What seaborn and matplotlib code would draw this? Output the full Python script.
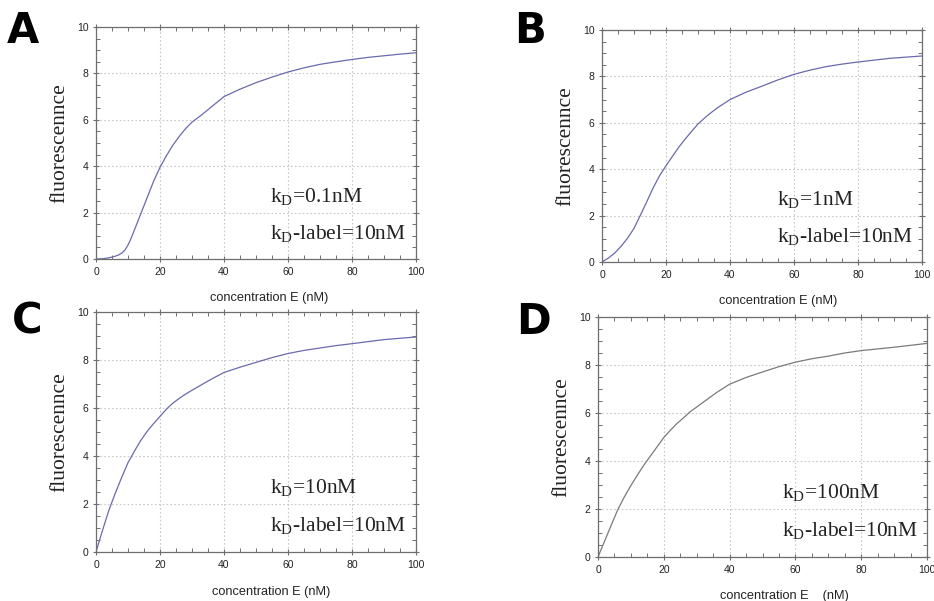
import matplotlib
matplotlib.use("Agg")
import matplotlib.pyplot as plt
import seaborn as sns
import pandas as pd
from matplotlib.ticker import MultipleLocator

# ---- data ----
x_a = [0, 2, 4, 6, 7, 8, 9, 10, 11, 12, 13, 14, 16, 18, 20, 22, 24, 26, 28, 30, 33, 36, 40,
       45, 50, 55, 60, 65, 70, 75, 80, 85, 90, 95, 100]
y_a = [0, 0.01, 0.05, 0.12, 0.17, 0.25, 0.38, 0.6, 0.9, 1.25, 1.6, 1.95, 2.65, 3.35, 3.95,
       4.45, 4.9, 5.28, 5.62, 5.9, 6.21, 6.55, 7.0, 7.32, 7.6, 7.84, 8.06, 8.24, 8.39, 8.5,
       8.6, 8.69, 8.76, 8.83, 8.89]

x_b = [0, 2, 4, 6, 8, 10, 12, 14, 16, 18, 20, 22, 24, 26, 28, 30, 33, 36, 40, 45, 50, 55,
       60, 65, 70, 75, 80, 90, 100]
y_b = [0, 0.17, 0.39, 0.68, 1.03, 1.45, 2.02, 2.6, 3.2, 3.72, 4.15, 4.55, 4.95, 5.3, 5.63,
       5.95, 6.32, 6.64, 7.0, 7.32, 7.58, 7.85, 8.09, 8.27, 8.42, 8.53, 8.62, 8.78, 8.88]

x_c = [0, 1, 2, 3, 4, 6, 8, 10, 12, 14, 16, 18, 20, 22, 24, 26, 28, 30, 33, 36, 40, 45, 50,
       55, 60, 65, 70, 75, 80, 90, 100]
y_c = [0, 0.45, 0.88, 1.31, 1.73, 2.44, 3.1, 3.72, 4.2, 4.65, 5.03, 5.35, 5.65, 5.95, 6.2,
       6.4, 6.58, 6.74, 6.97, 7.2, 7.48, 7.7, 7.9, 8.1, 8.27, 8.4, 8.5, 8.6, 8.68, 8.85, 8.96]

x_d = [0, 2, 4, 6, 8, 10, 12, 14, 16, 18, 20, 22, 24, 26, 28, 30, 33, 36, 40, 45, 50, 55,
       60, 65, 70, 75, 80, 90, 100]
y_d = [0, 0.66, 1.32, 1.97, 2.5, 2.98, 3.42, 3.84, 4.22, 4.6, 4.98, 5.28, 5.56, 5.8, 6.05,
       6.25, 6.55, 6.85, 7.2, 7.48, 7.71, 7.93, 8.12, 8.26, 8.37, 8.5, 8.6, 8.74, 8.9]

panel_letters = ["A", "B", "C", "D"]
kd_labels = ["0.1nM", "1nM", "10nM", "100nM"]
kd_label_value = "10nM"
x_ticks = [0, 20, 40, 60, 80, 100]
y_ticks = [0, 2, 4, 6, 8, 10]
x_labels = ["concentration E (nM)", "concentration E (nM)",
            "concentration E (nM)", "concentration E    (nM)"]
y_label = "fluorescennce"

sns.set_style("white")
plt.rcParams["font.family"] = ["Liberation Sans", "DejaVu Sans"]

W, H = 934, 601
fig = plt.figure(figsize=(W / 100, H / 100), dpi=100)

# axes boxes in pixels: left, top, right, bottom
boxes = [(96, 27, 416, 259), (602, 30, 922, 262),
         (96, 312, 416, 552), (598, 317, 927, 557)]
letter_pos = [(23, 31), (530, 31), (27, 321), (533, 322)]
colors = ["#6a6aae", "#6a6aae", "#6a6aae", "#7a7a7a"]
text_x = [54.5, 54.7, 54.4, 56.0]
xlabel_coords = [(0.54, -0.142), (0.55, -0.142), (0.547, -0.142), (0.568, -0.138)]

series = [(x_a, y_a), (x_b, y_b), (x_c, y_c), (x_d, y_d)]
serif = ["Liberation Serif", "DejaVu Serif"]

for i, (xs, ys) in enumerate(series):
    l, t, r, b = boxes[i]
    ax = fig.add_axes([l / W, (H - b) / H, (r - l) / W, (b - t) / H])
    df = pd.DataFrame({"x": xs, "y": ys})
    sns.lineplot(data=df, x="x", y="y", ax=ax, color=colors[i], linewidth=0.9)
    ax.set_xlim(0, 100)
    ax.set_ylim(0, 10)
    ax.set_xticks(x_ticks)
    ax.set_yticks(y_ticks)
    ax.xaxis.set_minor_locator(MultipleLocator(5))
    ax.yaxis.set_minor_locator(MultipleLocator(0.5))
    ax.grid(True, which="major", linestyle=(0, (1.5, 2)), color="#c8c8c8", linewidth=0.8)
    ax.set_axisbelow(True)
    for s in ax.spines.values():
        s.set_color("#6e6e6e")
        s.set_linewidth(0.9)
        s.set_visible(True)
    ax.tick_params(which="major", direction="inout", length=5, width=0.8,
                   color="#6e6e6e", labelsize=7.5, labelcolor="#222222",
                   top=True, right=True, bottom=True, left=True, pad=3)
    ax.tick_params(which="minor", direction="in", length=3, width=0.7,
                   color="#6e6e6e", top=True, right=True, bottom=True, left=True)
    ax.set_xlabel(x_labels[i], fontsize=9.2, color="#222222")
    ax.xaxis.set_label_coords(*xlabel_coords[i])
    ax.set_ylabel(y_label, fontsize=15.5, color="#222222", family=serif, labelpad=5)
    ax.text(text_x[i], 2.45, r"k$_\mathregular{D}$=" + kd_labels[i],
            fontsize=15.5, family=serif, color="#222222", va="baseline")
    ax.text(text_x[i], 0.85, r"k$_\mathregular{D}$-label=" + kd_label_value,
            fontsize=15.5, family=serif, color="#222222", va="baseline")
    lx, ly = letter_pos[i]
    fig.text(lx / W, 1 - ly / H, panel_letters[i], fontsize=30, fontweight="bold",
             ha="center", va="center", color="black", family=["DejaVu Sans"])

fig.savefig("out.png", dpi=100)
